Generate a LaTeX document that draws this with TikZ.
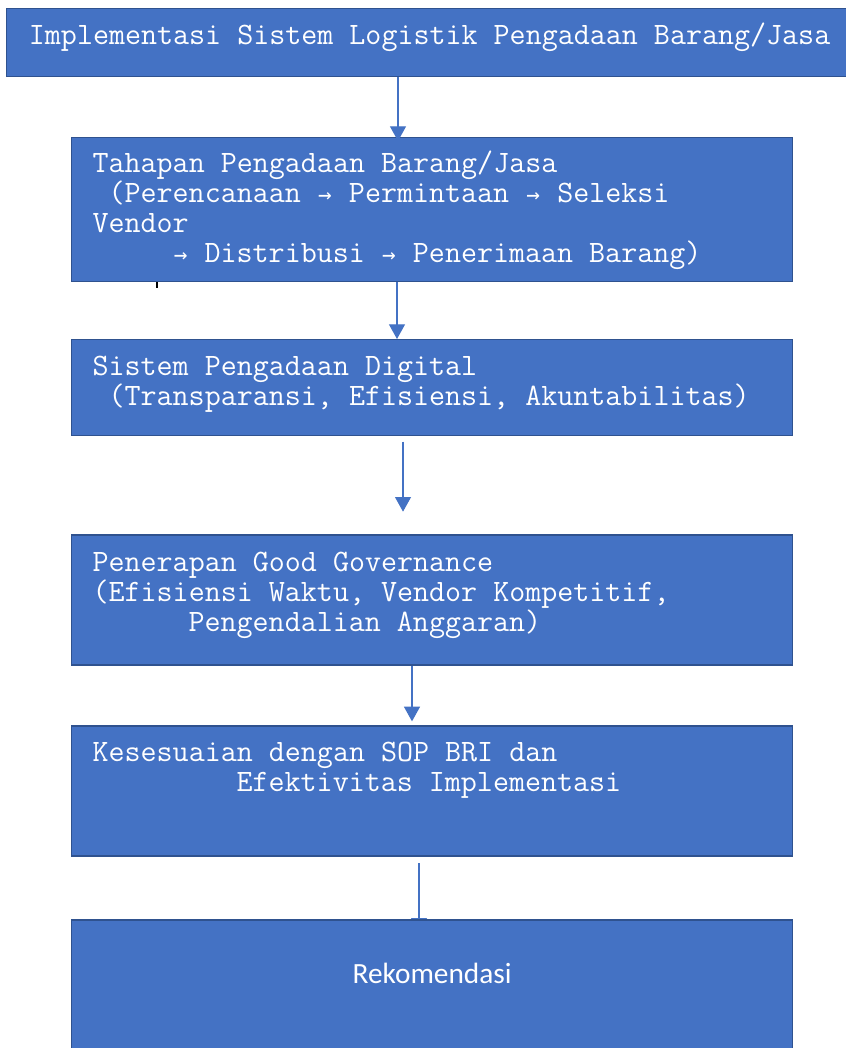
\documentclass[tikz,border=0pt]{standalone}
\usepackage{fontspec}
\newfontfamily\arrowfont{DejaVu Sans Mono}
\newfontfamily\calibrifont{Carlito}
\usetikzlibrary{positioning,arrows.meta,backgrounds}
\definecolor{boxblue}{HTML}{4472C4}
\definecolor{boxedge}{HTML}{2F528F}
\newcommand{\tarr}{\makebox[12pt]{\arrowfont\fontsize{17}{17}\selectfont →}}

\begin{document}
\begin{tikzpicture}[x=0.75pt, y=-0.75pt,
                    blue_box/.style={rectangle, draw=boxedge, fill=boxblue, line width=1pt, minimum width=540.75pt, inner sep=0pt},
                    box_text/.style={text=white, font=\ttfamily\fontsize{23.34}{22.5}\selectfont, align=left, inner sep=0pt, anchor=north west},
                    link/.style={draw=boxblue, line width=0.8pt, -{Triangle[width=12pt,length=11pt]}}
                ]
    \useasboundingbox (0,0) rectangle (845,1048);
    \node[blue_box, minimum width=648pt, minimum height=51pt, anchor=north west] (impl) at (6,8) {};
    \node[blue_box, minimum height=108pt, anchor=north west] (tahap) at (71,137) {};
    \node[blue_box, minimum height=72pt, below=42.5pt of tahap] (digital) {};
    \node[blue_box, minimum height=97.5pt, below=73.5pt of digital] (govern) {};
    \node[blue_box, minimum height=97.5pt, below=44.75pt of govern] (sop) {};
    \node[blue_box, minimum height=105pt, below=47pt of sop] (rekom) {};

    \node[box_text] (impl_text) at ([xshift=17pt, yshift=-11pt]impl.north west)
        {Implementasi Sistem Logistik Pengadaan Barang/Jasa};
    \node[box_text] (tahap_text) at ([xshift=16pt, yshift=-10.5pt]tahap.north west)
        {Tahapan Pengadaan Barang/Jasa\\
         \hspace*{12pt}(Perencanaan \tarr{} Permintaan \tarr{} Seleksi\\
         Vendor\\
         \hspace*{60pt}\tarr{} Distribusi \tarr{} Penerimaan Barang)};
    \node[box_text] (digital_text) at ([xshift=16pt, yshift=-12.75pt]digital.north west)
        {Sistem Pengadaan Digital\\
         \hspace*{12pt}(Transparansi, Efisiensi, Akuntabilitas)};
    \node[box_text] (govern_text) at ([xshift=16pt, yshift=-13.25pt]govern.north west)
        {Penerapan Good Governance\\
         (Efisiensi Waktu, Vendor Kompetitif,\\
         \hspace*{72pt}Pengendalian Anggaran)};
    \node[box_text] (sop_text) at ([xshift=16pt, yshift=-12.75pt]sop.north west)
        {Kesesuaian dengan SOP BRI dan\\
         \hspace*{108pt}Efektivitas Implementasi};
    \node[text=white, font=\calibrifont\fontsize{22}{26}\selectfont] (rekom_text)
        at ([yshift=-40.5pt]rekom.north) {Rekomendasi};

    \draw[link, shorten >=-3pt] (impl.south -| 398,0) -- (tahap.north -| 398,0);
    \draw[link] (tahap.south -| 397,0) -- (digital.north -| 397,0);
    \draw[link, shorten <=4pt, shorten >=17pt] (digital.south -| 403,0) -- (govern.north -| 403,0);
    \draw[link, shorten >=3pt] (govern.south -| 412,0) -- (sop.north -| 412,0);
    \begin{scope}[on background layer]
        \draw[link, shorten <=5pt, shorten >=-10pt] (sop.south -| 419,0) -- (rekom.north -| 419,0);
    \end{scope}
    \draw[line width=1.2pt] (tahap.south -| 157,0) -- ++(0,6);
\end{tikzpicture}
\end{document}
